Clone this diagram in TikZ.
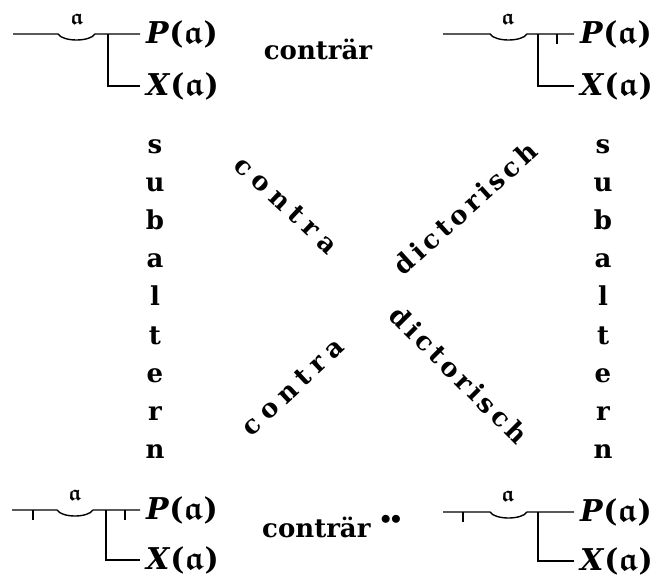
\documentclass[tikz,border=0pt]{standalone}
\usepackage{amsmath,amssymb}
\usepackage{fontspec}
\setmainfont{DejaVu Serif}
\newcommand\lsp{\hspace{7pt}}
\newcommand\dsp{\hspace{4pt}}
\tikzset{
  stroke/.style={line width=1.4pt},
  negstroke/.style={line width=1.9pt},
  lbl/.style={font=\fontsize{26}{30}\selectfont\bfseries, inner sep=0pt},
  frm/.style={font=\fontsize{30}{34}\selectfont\bfseries, inner xsep=6pt, inner ysep=0pt, anchor=west},
  gen/.style={font=\fontsize{22}{24}\selectfont\boldmath, inner sep=0pt},
}
\newcommand\fP{\textit{P}({\boldmath\fontsize{33}{34}\selectfont$\mathfrak{a}$})}
\newcommand\fX{\textit{X}({\boldmath\fontsize{33}{34}\selectfont$\mathfrak{a}$})}
\begin{document}
\begin{tikzpicture}[x=1pt,y=-1pt]
\useasboundingbox (0,0) rectangle (660,583);
% ---------- top left ----------
\coordinate (a1) at (13,34);
\node[gen] (g1) at (77,19) {$\mathfrak{a}$};
\node[frm] (P1) at (140,34) {\fP};
\node[frm] (X1) at (140,86) {\fX};
\coordinate (b1) at (108,34);
\draw[stroke] (a1) -- (58,34) .. controls (63,42) and (90,42) .. (95,34) -- (P1.west);
\draw[stroke] (b1) |- (X1.west);
% ---------- top right ----------
\coordinate (a2) at (443,34);
\node[gen] (g2) at (508,19) {$\mathfrak{a}$};
\node[frm] (P2) at (574,34) {\fP};
\node[frm] (X2) at (574,86) {\fX};
\coordinate (b2) at (538,34);
\coordinate (n2) at (557,34);
\draw[stroke] (a2) -- (490,34) .. controls (495,42) and (522,42) .. (527,34) -- (P2.west);
\draw[stroke] (b2) |- (X2.west);
\draw[negstroke] (n2) -- ++(0,10);
% ---------- bottom left ----------
\coordinate (a3) at (12,510);
\node[gen] (g3) at (75,495) {$\mathfrak{a}$};
\node[frm] (P3) at (140,510) {\fP};
\node[frm] (X3) at (140,560) {\fX};
\coordinate (b3) at (106,510);
\coordinate (n3a) at (33,510);
\coordinate (n3b) at (125,510);
\draw[stroke] (a3) -- (57,510) .. controls (62,518) and (88,518) .. (93,510) -- (P3.west);
\draw[stroke] (b3) |- (X3.west);
\draw[negstroke] (n3a) -- ++(0,10);
\draw[negstroke] (n3b) -- ++(0,10);
% ---------- bottom right ----------
\coordinate (a4) at (443,512);
\node[gen] (g4) at (508,496) {$\mathfrak{a}$};
\node[frm] (P4) at (574,512) {\fP};
\node[frm] (X4) at (574,561) {\fX};
\coordinate (b4) at (538,512);
\coordinate (n4) at (463,512);
\draw[stroke] (a4) -- (490,512) .. controls (495,520) and (522,520) .. (527,512) -- (P4.west);
\draw[stroke] (b4) |- (X4.west);
\draw[negstroke] (n4) -- ++(0,10);
% ---------- labels ----------
\node[lbl, anchor=base] (k1) at (318,60) {conträr};
\node[lbl, anchor=base west] (k2) at (262,537) {conträr\hspace{10pt}\raisebox{13pt}{\fontsize{20}{20}\selectfont$\bullet\bullet$}};
\foreach \c [count=\i] in {s,u,b,a,l,t,e,r,n} {
  \node[lbl, anchor=base] (sl\i) at (155,{153+38.2*(\i-1)}) {\c};
  \node[lbl, anchor=base] (sr\i) at (603,{153+38.2*(\i-1)}) {\c};
}
\node[lbl, rotate=-43] (c1) at (286,205) {c\lsp o\lsp n\lsp t\lsp r\lsp a};
\node[lbl, rotate=43] (c2) at (293,387) {c\lsp o\lsp n\lsp t\lsp r\lsp a};
\node[lbl, rotate=42] (d1) at (465,208) {d\dsp i\dsp c\dsp t\dsp o\dsp r\dsp i\dsp s\dsp c\dsp h};
\node[lbl, rotate=-45] (d2) at (459,375) {d\dsp i\dsp c\dsp t\dsp o\dsp r\dsp i\dsp s\dsp c\dsp h};
\end{tikzpicture}
\end{document}
